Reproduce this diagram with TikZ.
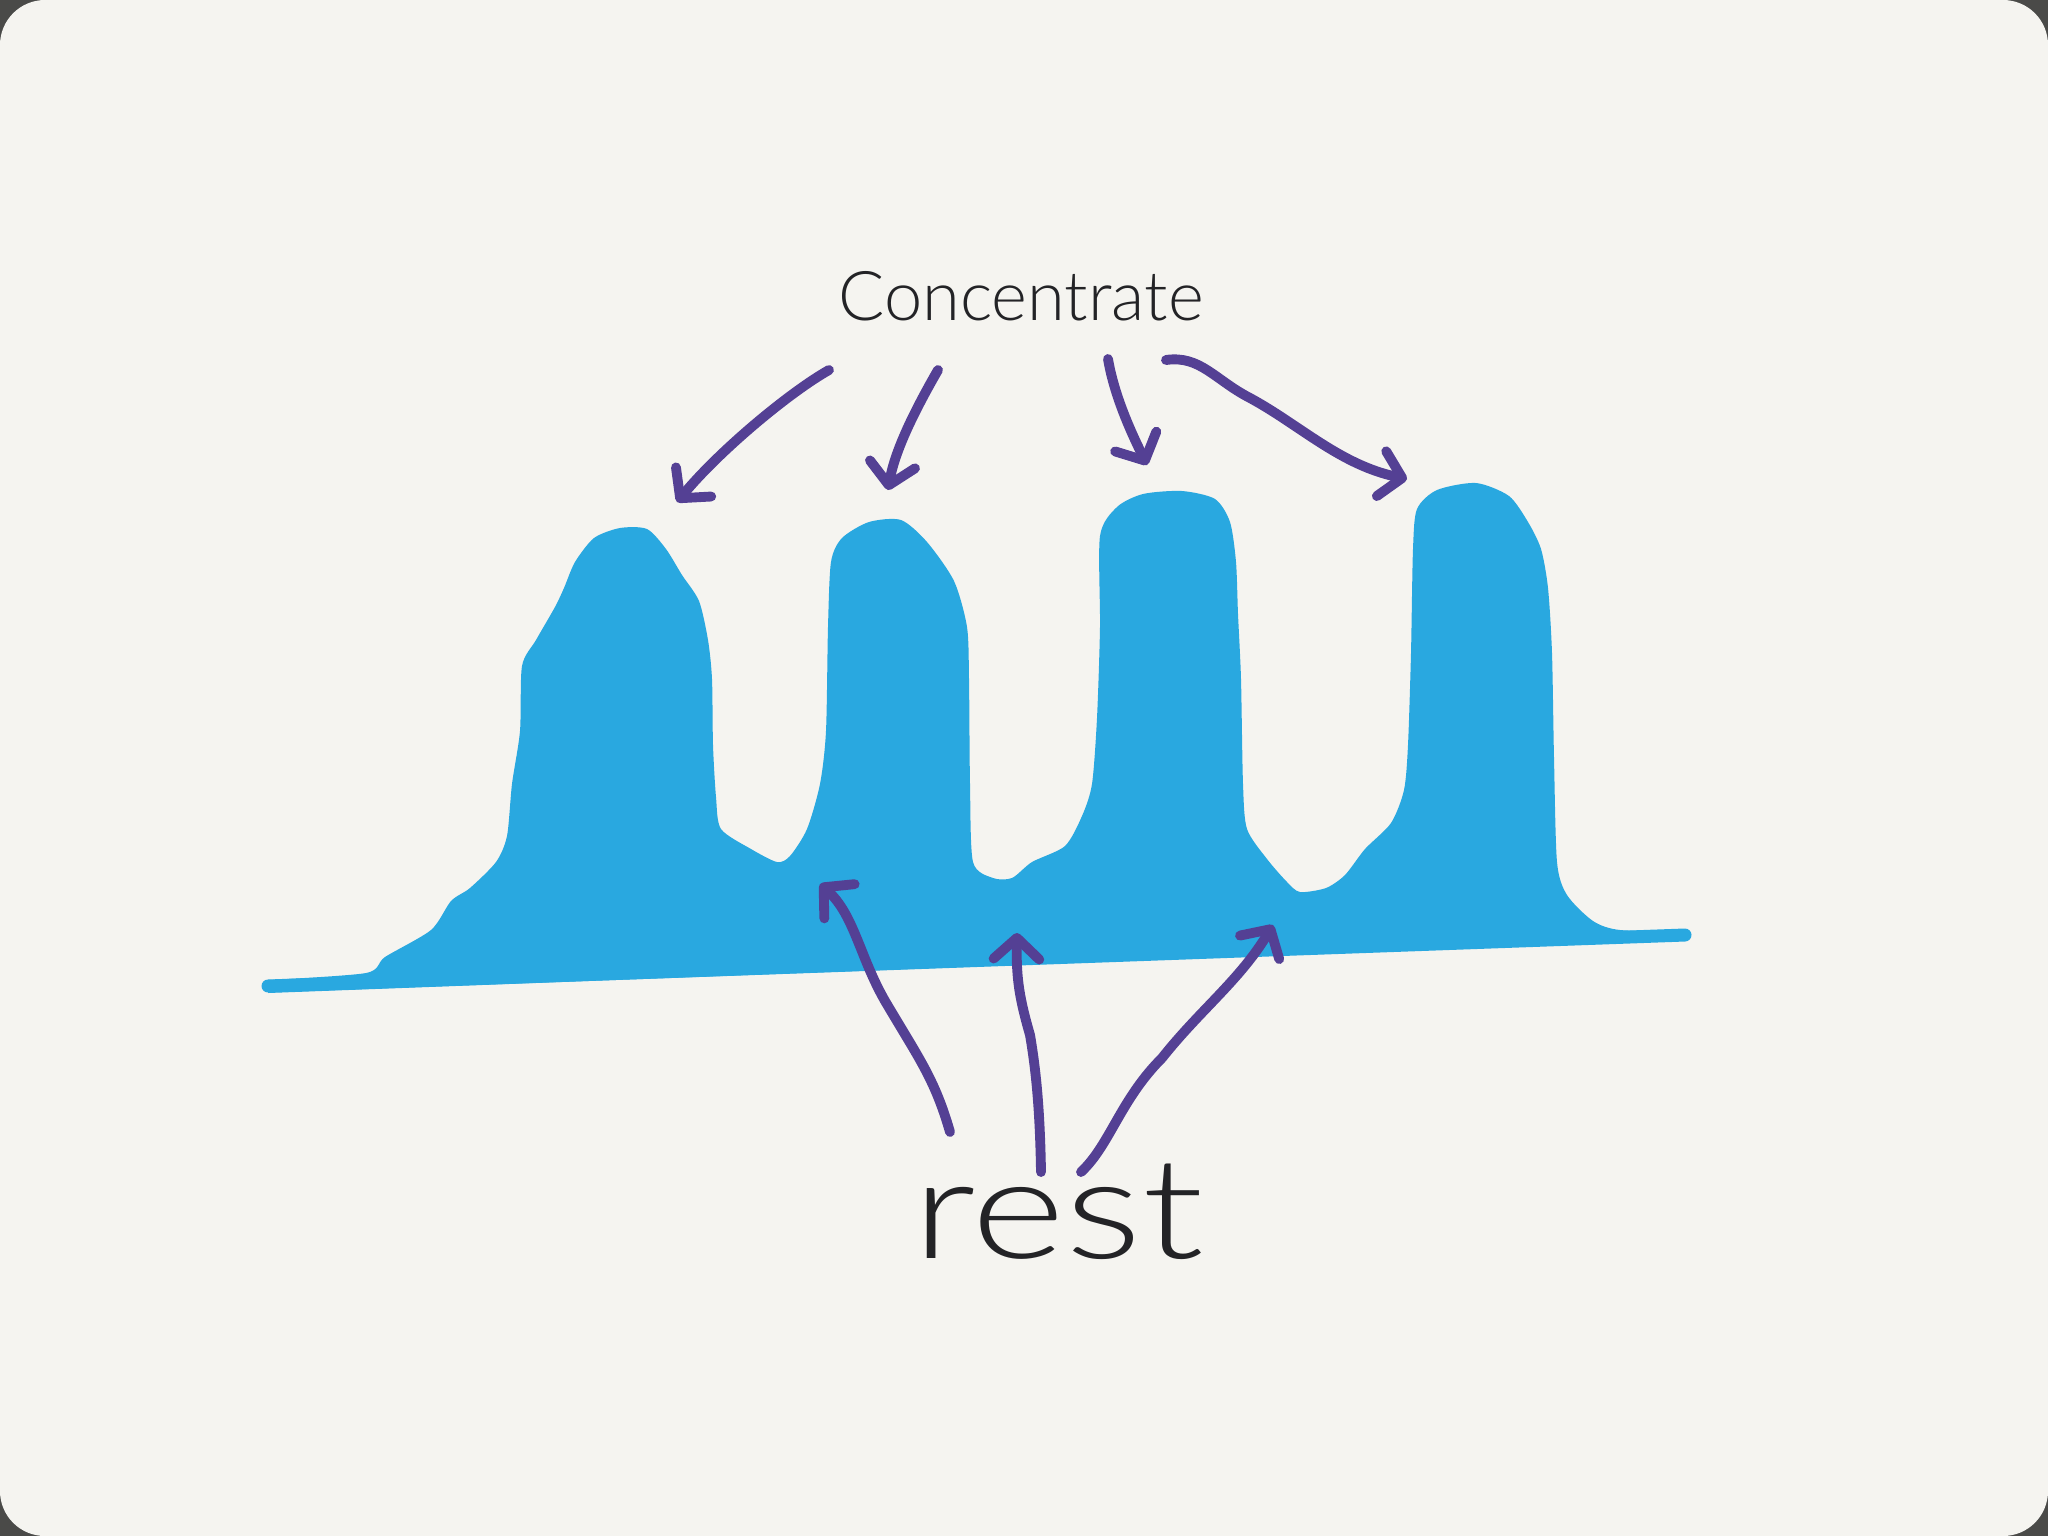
\documentclass[tikz,border=0pt]{standalone}
\usepackage{fontspec}
\newfontfamily\handlight{Lato Light}
\usetikzlibrary{arrows.meta}
\definecolor{bgdark}{RGB}{74,74,72}
\definecolor{paper}{RGB}{245,244,240}
\definecolor{waveblue}{RGB}{41,168,224}
\definecolor{penpurple}{RGB}{84,64,148}
\definecolor{inkgray}{RGB}{35,35,38}
\tikzset{
  pointer/.style={draw=penpurple, line width=2.8pt, line cap=round, line join=round,
    -{Straight Barb[length=6pt,width=13pt,round]}},
  label/.style={text=inkgray, font=\handlight}
}
\begin{document}
\begin{tikzpicture}[x=0.01cm, y=-0.01cm]
    % 背景
    \fill[bgdark] (0,0) rectangle (2048,1536);
    \fill[paper, rounded corners=0.45cm] (0,0) rectangle (2048,1536);
    \useasboundingbox (0,0) rectangle (2048,1536);

    % 蓝色区域
    \fill[waveblue] plot[smooth, tension=0.45] coordinates {
        (268,980) (366,973) (385,957) (431,930) (451,901) (470,888)
        (496,862) (507,836) (512,784) (520,731) (522,666) (536,640)
        (555,607) (564,588) (575,562) (594,538) (620,528) (647,529)
        (666,549) (682,575) (699,601) (708,640) (712,679) (713,745)
        (716,797) (721,829) (751,849) (777,862) (790,856) (807,829)
        (820,784) (826,731) (828,627) (831,562) (842,538) (869,522)
        (901,520) (927,542) (954,581) (967,627) (969,679) (970,784)
        (973,862) (993,878) (1012,878) (1032,862) (1065,846) (1082,816)
        (1092,784) (1097,718) (1100,627) (1100,536) (1117,507) (1143,494)
        (1182,491) (1215,499) (1230,522) (1236,562) (1238,614) (1241,679)
        (1243,784) (1247,829) (1267,859) (1287,882) (1300,892) (1326,888)
        (1345,875) (1365,849) (1391,823) (1404,790) (1408,745) (1411,653)
        (1413,549) (1417,509) (1437,490) (1476,483) (1509,496) (1528,522)
        (1541,549) (1548,588) (1552,653) (1554,758) (1557,862) (1567,895)
        (1593,921) (1620,930) (1685,931)}
        -- (1685,940) -- (268,993) -- cycle;
    \draw[waveblue, line width=0.13cm, line cap=round] (268,986) -- (1685,935);

    % 文字
    \node[label, font=\handlight\fontsize{19.5}{22}\selectfont] (focus) at (1021,296) {Concentrate};
    \node[label, font=\handlight\fontsize{40}{42}\selectfont, xscale=1.28] (rest) at (1058,1212) {rest};

    % 上方箭头
    \coordinate (f1) at (829,370);  \coordinate (p1) at (677,502);
    \coordinate (f2) at (938,370);  \coordinate (p2) at (888,490);
    \coordinate (f3) at (1108,359); \coordinate (p3) at (1147,465);
    \coordinate (f4) at (1166,360); \coordinate (p4) at (1407,479);
    \draw[pointer] (f1) .. controls (790,392) and (720,450) .. (p1);
    \draw[pointer] (f2) .. controls (915,410) and (895,450) .. (p2);
    \draw[pointer] (f3) .. controls (1115,400) and (1135,440) .. (p3);
    \draw[pointer] (f4) .. controls (1200,355) and (1215,380) .. (1250,398)
        .. controls (1300,425) and (1340,465) .. (p4);

    % 下方箭头
    \coordinate (r1) at (950,1132);  \coordinate (v1) at (820,884);
    \coordinate (r2) at (1041,1172); \coordinate (v2) at (1017,933);
    \coordinate (r3) at (1081,1172); \coordinate (v3) at (1273,925);
    \draw[pointer] (r1) .. controls (935,1080) and (920,1060) .. (888,1006)
        .. controls (860,960) and (855,915) .. (v1);
    \draw[pointer] (r2) .. controls (1040,1110) and (1036,1070) .. (1030,1035)
        .. controls (1020,1000) and (1016,980) .. (v2);
    \draw[pointer] (r3) .. controls (1110,1145) and (1120,1100) .. (1162,1058)
        .. controls (1200,1010) and (1240,980) .. (v3);
\end{tikzpicture}
\end{document}
